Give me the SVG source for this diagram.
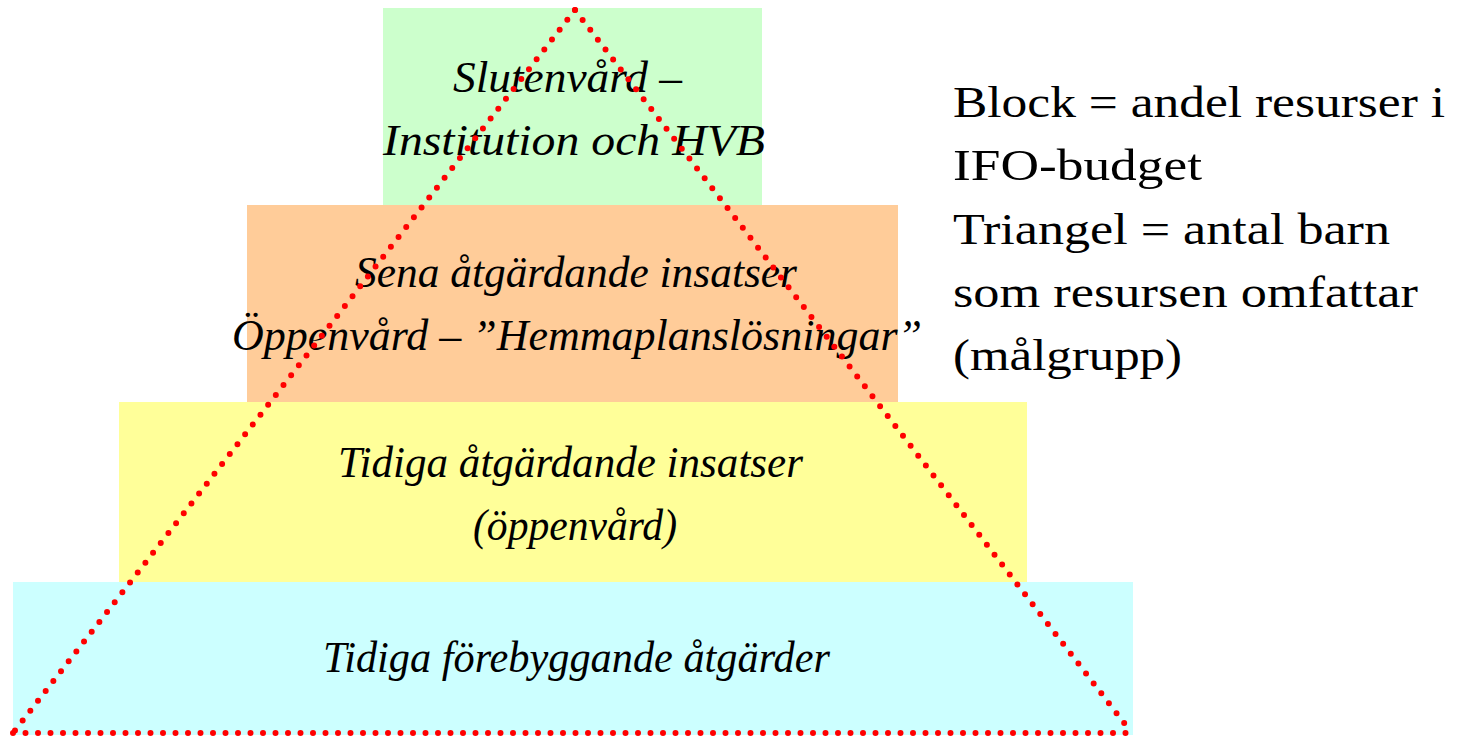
<svg xmlns="http://www.w3.org/2000/svg" width="1462" height="739" viewBox="0 0 1462 739">
<style>
.lbl{font-family:"Liberation Serif","DejaVu Serif",serif;font-style:italic;font-size:44px;fill:#000}
.leg{font-family:"Liberation Serif","DejaVu Serif",serif;font-size:44px;fill:#000}
.dot{fill:none;stroke:#FF0000;stroke-width:6;stroke-linecap:round;stroke-dasharray:0 12.5}
</style>
<rect width="1462" height="739" fill="#FFFFFF"/>
<g id="block-sluten">
<rect x="383" y="8" width="379" height="197" fill="#CCFFCC"/>
<text class="lbl" x="453" y="92" textLength="229" lengthAdjust="spacingAndGlyphs">Slutenvård –</text>
<text class="lbl" x="383" y="155" textLength="382" lengthAdjust="spacingAndGlyphs">Institution och HVB</text>
</g>
<g id="block-sena">
<rect x="247" y="205" width="651" height="197" fill="#FFCC99"/>
<text class="lbl" x="355" y="287" textLength="442" lengthAdjust="spacingAndGlyphs">Sena åtgärdande insatser</text>
<text class="lbl" x="232" y="350" textLength="690" lengthAdjust="spacingAndGlyphs">Öppenvård – ”Hemmaplanslösningar”</text>
</g>
<g id="block-tidiga-atg">
<rect x="119" y="402" width="908" height="180" fill="#FFFF99"/>
<text class="lbl" x="338" y="477" textLength="465" lengthAdjust="spacingAndGlyphs">Tidiga åtgärdande insatser</text>
<text class="lbl" x="473" y="540" textLength="204" lengthAdjust="spacingAndGlyphs">(öppenvård)</text>
</g>
<g id="block-forebygg">
<rect x="13" y="582" width="1120" height="153" fill="#CCFFFF"/>
<text class="lbl" x="323" y="672" textLength="507" lengthAdjust="spacingAndGlyphs">Tidiga förebyggande åtgärder</text>
</g>
<g id="connectors">
<line class="dot" x1="575" y1="10" x2="13" y2="733"/>
<line class="dot" x1="575" y1="10" x2="1128" y2="728"/>
<line class="dot" x1="13" y1="733" x2="1128" y2="733"/>
</g>
<g id="legend">
<text class="leg" x="953" y="117" textLength="492" lengthAdjust="spacingAndGlyphs">Block = andel resurser i</text>
<text class="leg" x="953" y="180" textLength="249" lengthAdjust="spacingAndGlyphs">IFO-budget</text>
<text class="leg" x="953" y="244" textLength="437" lengthAdjust="spacingAndGlyphs">Triangel = antal barn</text>
<text class="leg" x="953" y="307" textLength="465" lengthAdjust="spacingAndGlyphs">som resursen omfattar</text>
<text class="leg" x="953" y="370" textLength="229" lengthAdjust="spacingAndGlyphs">(målgrupp)</text>
</g>
</svg>
